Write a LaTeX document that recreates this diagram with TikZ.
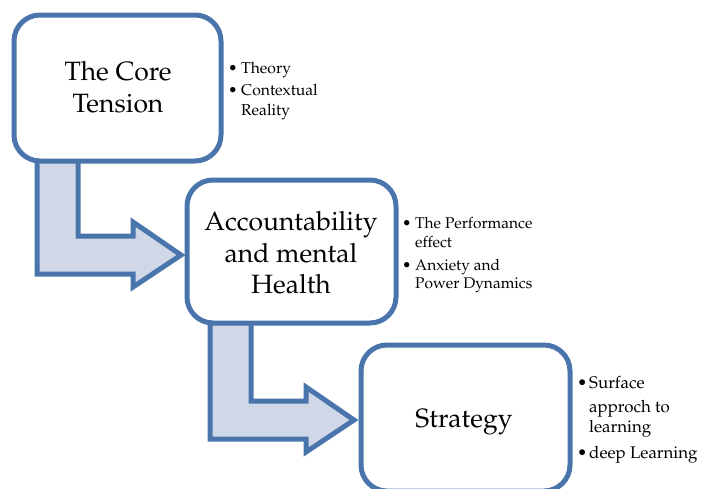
\documentclass[tikz,border=0pt]{standalone}
\usepackage[T1]{fontenc}
\usepackage{mathpazo}
\definecolor{edgeblue}{RGB}{74,117,172}
\definecolor{arrowfill}{RGB}{208,216,232}
\tikzset{
  stepbox/.style={draw=edgeblue, line width=5pt, fill=white, rounded corners=26pt},
  bentarrow/.style={draw=edgeblue, line width=5pt, fill=arrowfill, line join=miter},
  title/.style={anchor=base, inner sep=0pt, font=\fontsize{26.5}{32}\selectfont, align=center},
  bul/.style={anchor=base west, inner sep=0pt},
}
\begin{document}
\begin{tikzpicture}[x=1pt,y=-1pt]
\useasboundingbox (0,0) rectangle (710,488);
\clip (0,0) rectangle (710,488);
% bent arrows
\draw[bentarrow] (37,150) -- (37,274) -- (133,274) -- (133,287) -- (181,255) -- (133,222) -- (133,236) -- (78,236) -- (78,150) -- cycle;
\draw[bentarrow] (210,315) -- (210,439) -- (306,439) -- (306,452) -- (354,420) -- (306,387) -- (306,401) -- (251,401) -- (251,315) -- cycle;
% boxes
\draw[stepbox] (14,15) rectangle (221,161);
\draw[stepbox] (187,180) rectangle (396,323);
\draw[stepbox] (361,345) rectangle (570,491);
% titles
\node[title] (t1a) at (118,80) {The Core};
\node[title] (t1b) at (118,112) {Tension};
\node[title] (t2a) at (291,230) {Accountability};
\node[title] (t2b) at (291,262) {and mental};
\node[title] (t2c) at (291,293) {Health};
\node[title] (t3a) at (464,427) {Strategy};
% bullets box 1
\begin{scope}[font=\fontsize{15.7}{20}\selectfont]
\node[bul] (d1a) at (228,73) {\textbullet};
\node[bul] (b1a) at (241,73) {Theory};
\node[bul] (d1b) at (228,95) {\textbullet};
\node[bul] (b1b) at (241,95) {Contextual};
\node[bul] (b1c) at (241,115) {Reality};
\end{scope}
% bullets box 2
\begin{scope}[font=\fontsize{15.5}{19}\selectfont]
\node[bul] (d2a) at (402,228) {\textbullet};
\node[bul] (b2a) at (415,228) {The Performance};
\node[bul] (b2b) at (415,247) {effect};
\node[bul] (d2b) at (402,270) {\textbullet};
\node[bul] (b2c) at (415,270) {Anxiety and};
\node[bul] (b2d) at (415,288) {Power Dynamics};
\end{scope}
% bullets box 3
\begin{scope}[font=\fontsize{16.9}{23}\selectfont]
\node[bul] (d3a) at (577,388) {\textbullet};
\node[bul] (b3a) at (589,388) {Surface};
\node[bul] (b3b) at (589,412) {approch to};
\node[bul] (b3c) at (589,432) {learning};
\node[bul] (d3b) at (577,458) {\textbullet};
\node[bul] (b3d) at (589,458) {deep Learning};
\end{scope}
\end{tikzpicture}
\end{document}
